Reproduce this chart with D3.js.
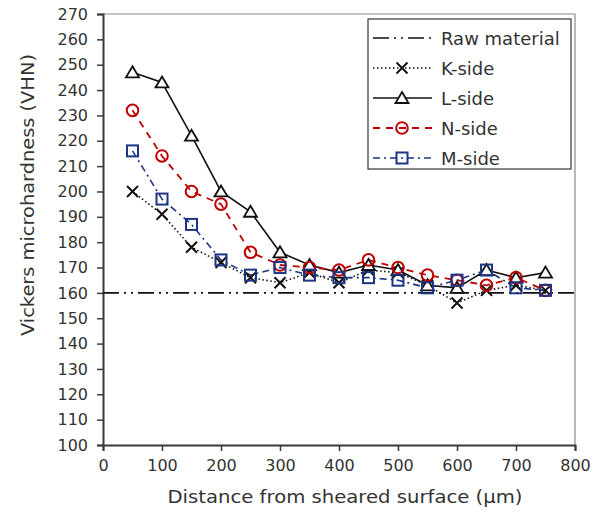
<!DOCTYPE html>
<html>
<head>
<meta charset="utf-8">
<script src="https://cdn.jsdelivr.net/npm/d3@7"></script>
<style>
  body { margin: 0; background: #fff; }
  svg text { font-family: "DejaVu Sans", sans-serif; fill: #333; }
</style>
</head>
<body>
<div id="chart"></div>
<script>
// dados
const distances = [50, 100, 150, 200, 250, 300, 350, 400, 450, 500, 550, 600, 650, 700, 750];
const rawMaterial = 160;
const kSide = [200, 191, 178, 172, 166, 164, 168, 164, 169, 168, 163, 156, 161, 163, 161];
const lSide = [247, 243, 222, 200, 192, 176, 171, 168, 171, 169, 163, 162, 169, 166, 168];
const nSide = [232, 214, 200, 195, 176, 171, 170, 169, 173, 170, 167, 165, 163, 166, 161];
const mSide = [216, 197, 187, 173, 167, 170, 167, 166, 166, 165, 162, 165, 169, 162, 161];
const xTicks = [0, 100, 200, 300, 400, 500, 600, 700, 800];
const yTicks = d3.range(100, 271, 10);

const margin = {top: 14, right: 28, bottom: 69, left: 103},
  width = 603 - margin.left - margin.right,
  height = 514 - margin.top - margin.bottom;

const svg = d3.select("#chart")
  .append("svg")
    .attr("width", 603)
    .attr("height", 514)
  .append("g")
    .attr("transform", `translate(${margin.left},${margin.top})`);

const x = d3.scaleLinear().domain([0, 800]).range([0, width]);
const y = d3.scaleLinear().domain([100, 270]).range([height, 0]);

// moldura (topo e direita)
svg.append("path")
  .attr("d", `M0,0H${width}V${height}`)
  .attr("fill", "none")
  .attr("stroke", "#8a8a8a")
  .attr("stroke-width", 1.2);

// eixos
const gx = svg.append("g")
  .attr("transform", `translate(0,${height})`)
  .call(d3.axisBottom(x).tickValues(xTicks).tickSize(6).tickPadding(9));
const gy = svg.append("g")
  .call(d3.axisLeft(y).tickValues(yTicks).tickSize(6).tickPadding(9));
[gx, gy].forEach(g => {
  g.select(".domain").attr("stroke", "#3a3a3a").attr("stroke-width", 2);
  g.selectAll(".tick line").attr("stroke", "#3a3a3a").attr("stroke-width", 1.5);
  g.selectAll(".tick text").style("font-size", "16px").attr("fill", "#333");
});

// rótulos dos eixos
svg.append("text")
  .attr("text-anchor", "middle")
  .attr("x", 345 - margin.left)
  .attr("y", height + 58)
  .attr("textLength", 355)
  .attr("lengthAdjust", "spacingAndGlyphs")
  .style("font-size", "18px")
  .text("Distance from sheared surface (µm)");

svg.append("text")
  .attr("text-anchor", "middle")
  .attr("transform", "rotate(-90)")
  .attr("x", -(195 - margin.top))
  .attr("y", -69)
  .attr("textLength", 282)
  .attr("lengthAdjust", "spacingAndGlyphs")
  .style("font-size", "18px")
  .text("Vickers microhardness (VHN)");

// séries
const series = [
  {name: "K-side", values: kSide, color: "#111", dash: "1.5,2.5", width: 1.6, marker: "x"},
  {name: "L-side", values: lSide, color: "#111", dash: null, width: 1.6, marker: "tri"},
  {name: "N-side", values: nSide, color: "#c00000", dash: "7,6", width: 1.8, marker: "circle"},
  {name: "M-side", values: mSide, color: "#1c3584", dash: "7,4,2,4", width: 1.6, marker: "square"}
];

function drawMarker(g, type, color) {
  if (type === "x") {
    g.append("path").attr("d", "M-5.5,-5.5L5.5,5.5M-5.5,5.5L5.5,-5.5")
      .attr("stroke", color).attr("stroke-width", 2).attr("fill", "none");
  } else if (type === "tri") {
    g.append("path").attr("d", "M0,-6L6.5,5H-6.5Z")
      .attr("stroke", color).attr("stroke-width", 1.8).attr("fill", "#fff");
  } else if (type === "circle") {
    g.append("circle").attr("r", 5.8)
      .attr("stroke", color).attr("stroke-width", 2).attr("fill", "none");
  } else if (type === "square") {
    g.append("rect").attr("x", -5.5).attr("y", -5.5).attr("width", 11).attr("height", 11)
      .attr("stroke", color).attr("stroke-width", 2).attr("fill", "none");
  }
}

// linha do material bruto
svg.append("line")
  .attr("x1", x(0)).attr("x2", x(800))
  .attr("y1", y(rawMaterial)).attr("y2", y(rawMaterial))
  .attr("stroke", "#111")
  .attr("stroke-width", 1.6)
  .attr("stroke-dasharray", "16,5,2,5,2,5");

const line = d3.line()
  .x((d, i) => x(distances[i]))
  .y(d => y(d));

series.forEach(s => {
  svg.append("path")
    .datum(s.values)
    .attr("d", line)
    .attr("fill", "none")
    .attr("stroke", s.color)
    .attr("stroke-width", s.width)
    .attr("stroke-dasharray", s.dash);
});

series.forEach(s => {
  s.values.forEach((v, i) => {
    const g = svg.append("g").attr("transform", `translate(${x(distances[i])},${y(v)})`);
    drawMarker(g, s.marker, s.color);
  });
});

// legenda
const legend = svg.append("g").attr("transform", `translate(${368 - margin.left},${19 - margin.top})`);
legend.append("rect")
  .attr("width", 203).attr("height", 150)
  .attr("fill", "#fff")
  .attr("stroke", "#333").attr("stroke-width", 1.2);

const legendItems = [{name: "Raw material", color: "#111", dash: "16,5,2,5,2,5", width: 1.6, marker: null}].concat(series);
legendItems.forEach((s, i) => {
  const row = legend.append("g").attr("transform", `translate(0,${19 + i * 30})`);
  row.append("line")
    .attr("x1", 5).attr("x2", 64)
    .attr("stroke", s.color)
    .attr("stroke-width", s.width)
    .attr("stroke-dasharray", s.dash);
  if (s.marker) {
    const m = row.append("g").attr("transform", "translate(34,0)");
    drawMarker(m, s.marker, s.color);
  }
  row.append("text")
    .attr("x", 73)
    .attr("y", 6.5)
    .style("font-size", "18px")
    .text(s.name);
});
</script>
</body>
</html>
